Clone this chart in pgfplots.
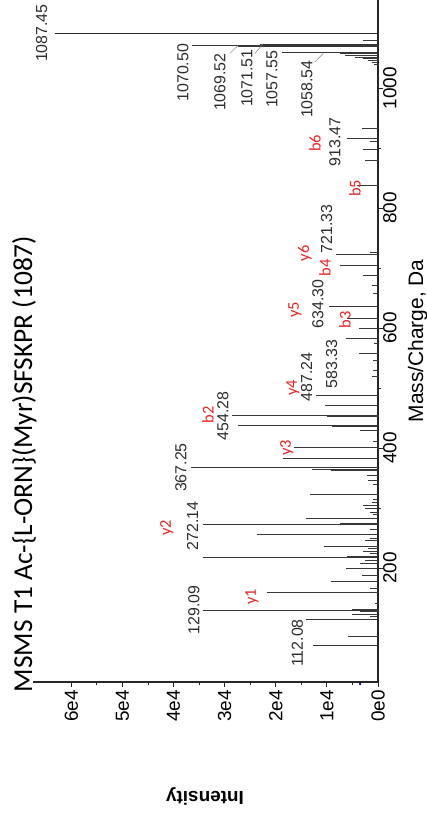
\documentclass[border=0pt]{standalone}
\usepackage{pgfplots}
\pgfplotsset{compat=1.18}
\usepackage{fontspec}
\setmainfont{Liberation Sans}
\newfontfamily\calfont{Carlito}
\definecolor{peak}{RGB}{55,55,55}
\definecolor{lab}{RGB}{45,45,45}
\definecolor{ion}{RGB}{235,35,35}
\tikzset{
  lbl/.style={rotate=90, inner sep=0pt, text=lab, font=\fontsize{16}{16}\selectfont},
  ionl/.style={rotate=90, inner sep=0pt, text=ion, font=\calfont\fontsize{16.5}{16.5}\selectfont},
}
\pgfplotstableread{
m I
1080 3000
1073.5 23100
1072 36400
1070.5 27400
1060.5 18800
1058.3 7400
1055 6500
1052 4500
1049 3000
1046 2000
1043 1200
1040 700
932.8 3200
916 6000
912 1500
898 2900
880 2500
838 4200
726 1500
723.3 8300
705 7400
688 2900
672 1200
658 1000
636.7 9500
616 6000
599.5 3800
582.8 6300
575 800
558 3800
547 1000
530 900
520 1200
488.3 12100
471.7 10300
455 28500
453 10000
438.3 27300
436 9000
430 3500
411 1000
401 16400
383 18500
367.2 36500
365 13000
363 9100
355 2200
346.7 1900
340 1000
322.8 13300
315 1000
310 1200
305 2900
299.5 2500
293 1500
290 1000
282 14000
274 7400
272.8 34200
265 1500
256.7 23600
250 1500
246 2500
236.7 10500
232 2000
228 3000
224 1500
219 6000
217.8 34200
212 2500
208 3500
199.4 6300
188 3200
177.2 9200
166.7 1600
158.9 21700
141 600
131 5100
130 34200
127 3500
122.8 5100
118.9 1500
114.4 14000
85.6 5800
70.6 12800
}\peaks
\begin{document}
\begin{tikzpicture}
\begin{axis}[
  at={(0,0)}, anchor=south west, scale only axis,
  width=345bp, height=682bp,
  x dir=reverse, xmin=0, xmax=67500, ymin=10, ymax=1147,
  axis x line*=bottom, axis y line*=right,
  axis line style={line width=1.1bp, black!85},
  xtick={0,10000,...,60000}, xticklabels={0e0,1e4,2e4,3e4,4e4,5e4,6e4},
  minor x tick num=1,
  ytick={200,400,600,800,1000}, minor y tick num=1,
  tick align=outside, major tick length=5bp, minor tick length=3bp,
  tick style={black!85, line width=0.8bp},
  scaled ticks=false,
  /pgf/number format/1000 sep={},
  /pgf/number format/assume math mode=true,
  xticklabel style={rotate=90, anchor=east, inner sep=0pt, font=\fontsize{19}{19}\selectfont},
  xticklabel shift=3bp,
  yticklabel style={rotate=90, anchor=north, inner sep=0pt, font=\fontsize{19}{19}\selectfont},
  clip=false,
]
\addplot[xcomb, draw=peak, line width=0.7bp, mark=none] table[x=I, y=m] {\peaks};
\addplot[xcomb, draw=black!85, line width=1.6bp, mark=none] coordinates {(63200,1091)};
\addplot[only marks, mark=*, mark size=1bp, color=blue!60!black] coordinates {(3500,6.7)};
% leader lines
\draw[gray, line width=0.5bp] (axis cs:28960,1058) -- (axis cs:27340,1071.7);
\draw[gray, line width=0.5bp] (axis cs:24070,1057.8) -- (axis cs:22440,1074.4);
\draw[gray, line width=0.5bp] (axis cs:12330,1043.8) -- (axis cs:10700,1057.8);
% peak labels
\node[lbl] at (axis cs:65800,1091.7) {1087.45};
\node[lbl] at (axis cs:38160,1025.8) {1070.50};
\node[lbl] at (axis cs:30920,1010) {1069.52};
\node[lbl] at (axis cs:25640,1016.7) {1071.51};
\node[lbl] at (axis cs:20740,1015) {1057.55};
\node[lbl] at (axis cs:13890,998.3) {1058.54};
\node[lbl] at (axis cs:8415,910) {913.47};
\node[lbl] at (axis cs:10040,765) {721.33};
\node[lbl] at (axis cs:11740,640) {634.30};
\node[lbl] at (axis cs:9060,540) {583.33};
\node[lbl] at (axis cs:13950,518.3) {487.24};
\node[lbl] at (axis cs:30330,453.3) {454.28};
\node[lbl] at (axis cs:38550,367.5) {367.25};
\node[lbl] at (axis cs:36300,270) {272.14};
\node[lbl] at (axis cs:36010,130) {129.09};
\node[lbl] at (axis cs:15750,75) {112.08};
% ion labels
\node[ionl] at (axis cs:12330,908.3) {b6};
\node[ionl] at (axis cs:4500,833.3) {b5};
\node[ionl] at (axis cs:14290,725) {y6};
\node[ionl] at (axis cs:10370,700.8) {b4};
\node[ionl] at (axis cs:16240,630) {y5};
\node[ionl] at (axis cs:6460,613.3) {b3};
\node[ionl] at (axis cs:16630,500) {y4};
\node[ionl] at (axis cs:33270,455) {b2};
\node[ionl] at (axis cs:17810,400) {y3};
\node[ionl] at (axis cs:41290,266.7) {y2};
\node[ionl] at (axis cs:24660,151.7) {y1};
\end{axis}
\node[rotate=90, anchor=base, inner sep=0pt, font=\calfont\fontsize{27.5}{27.5}\selectfont] at (-1bp,218bp) {MSMS T1 Ac-\{L-ORN\}(Myr)SFSKPR (1087)};
\node[rotate=90, anchor=base, inner sep=0pt, font=\fontsize{21}{21}\selectfont] at (390bp,341bp) {Mass/Charge, Da};
\node[rotate=180, anchor=center, inner sep=0pt, font=\bfseries\fontsize{19}{19}\selectfont] at (172bp,-114bp) {Intensity};
\pgfresetboundingbox
\useasboundingbox (-33bp,-134bp) rectangle (394bp,682bp);
\end{tikzpicture}
\end{document}
